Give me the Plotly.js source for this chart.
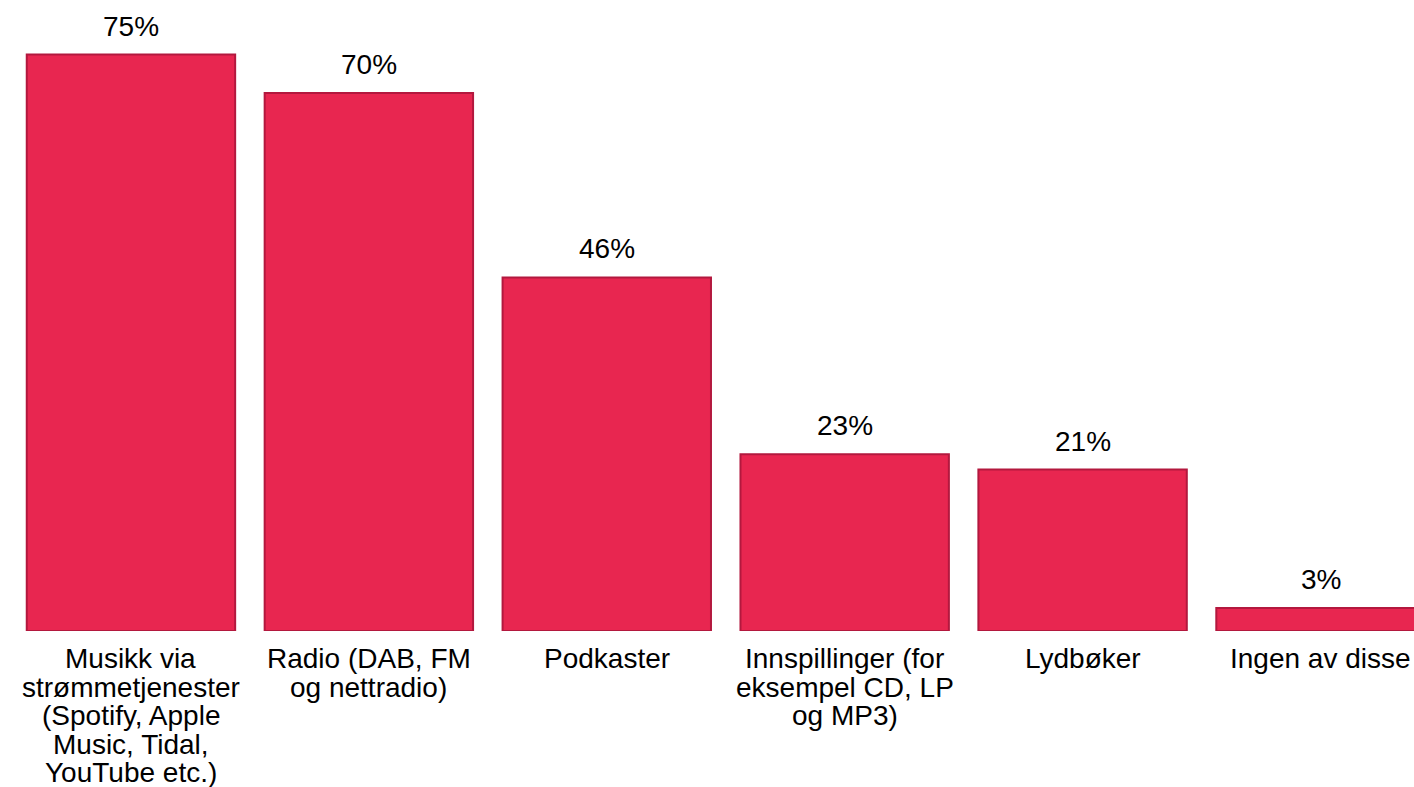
<!DOCTYPE html>
<html>
<head>
<meta charset="utf-8">
<script src="https://cdn.plot.ly/plotly-3.0.1.min.js"></script>
<style>
  html, body { margin: 0; padding: 0; background: #ffffff; overflow: hidden; }
  #chart { width: 1414px; height: 787px; }
</style>
</head>
<body>
<div id="chart"></div>
<script>
// Share of respondents using each audio source (%)
const categories = ['Musikk', 'Radio', 'Podkaster', 'Innspillinger', 'Lydbøker', 'Ingen'];
const values = [75, 70, 46, 23, 21, 3];
const categoryLines = [
  ['Musikk via', 'strømmetjenester', '(Spotify, Apple', 'Music, Tidal,', 'YouTube etc.)'],
  ['Radio (DAB, FM', 'og nettradio)'],
  ['Podkaster'],
  ['Innspillinger (for', 'eksempel CD, LP', 'og MP3)'],
  ['Lydbøker'],
  ['Ingen av disse']
];

const FONT = 'Liberation Sans, Helvetica, Arial, sans-serif';
const FONT_SIZE = 28;
const LINE_STEP = 28.5;

const annotations = [];

// value labels above each bar
categories.forEach((c, i) => {
  annotations.push({
    x: c, y: values[i], xref: 'x', yref: 'y',
    text: values[i] + '%',
    showarrow: false,
    xanchor: 'center', yanchor: 'bottom',
    yshift: 11,
    font: { family: FONT, size: FONT_SIZE, color: '#000000' }
  });
});

// category labels below the bars, one line at a time for tight line spacing
categories.forEach((c, i) => {
  categoryLines[i].forEach((line, j) => {
    annotations.push({
      x: c, y: 0, xref: 'x', yref: 'y',
      text: line,
      showarrow: false,
      xanchor: 'center', yanchor: 'top',
      yshift: -(10 + j * LINE_STEP),
      font: { family: FONT, size: FONT_SIZE, color: '#000000' }
    });
  });
});

const trace = {
  type: 'bar',
  x: categories,
  y: values,
  marker: {
    color: '#e82650',
    line: { color: '#b3183e', width: 2 }
  },
  hoverinfo: 'none'
};

const layout = {
  width: 1414,
  height: 787,
  margin: { l: 12, r: 0, t: 0, b: 156 },
  paper_bgcolor: '#ffffff',
  plot_bgcolor: '#ffffff',
  bargap: 0.124,
  showlegend: false,
  xaxis: {
    type: 'category',
    range: [-0.5, 5.393],
    showticklabels: false,
    showgrid: false,
    zeroline: false,
    showline: false,
    ticks: ''
  },
  yaxis: {
    range: [0, 82.1],
    showticklabels: false,
    showgrid: false,
    zeroline: false,
    showline: false,
    ticks: ''
  },
  annotations: annotations
};

Plotly.newPlot('chart', [trace], layout, { displayModeBar: false, staticPlot: true });
</script>
</body>
</html>
